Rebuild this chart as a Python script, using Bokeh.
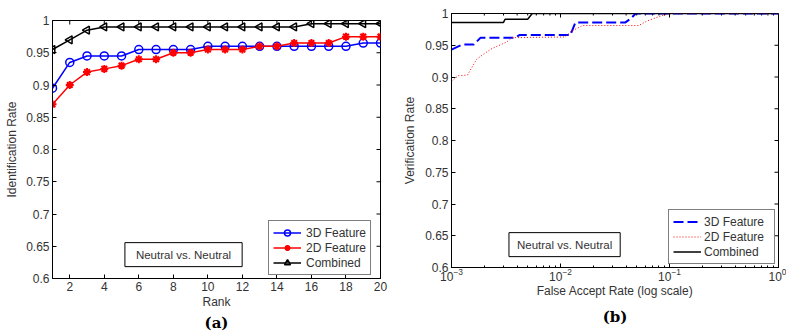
import numpy as np
from bokeh.plotting import figure
from bokeh.layouts import row
from bokeh.models import (Range1d, FixedTicker, NumeralTickFormatter,
                          Legend, LegendItem, Label, Title, LogTicker)
from bokeh.embed import file_html
from bokeh.resources import INLINE

# ---------------- data: (a) identification ----------------
rank = list(range(1, 21))
id_3d = [0.895, 0.935, 0.945, 0.945, 0.945, 0.955, 0.955, 0.955, 0.955, 0.96,
         0.96, 0.96, 0.96, 0.96, 0.96, 0.96, 0.96, 0.96, 0.965, 0.965]
id_2d = [0.87, 0.90, 0.92, 0.925, 0.93, 0.94, 0.94, 0.95, 0.95, 0.955,
         0.955, 0.955, 0.96, 0.96, 0.965, 0.965, 0.965, 0.975, 0.975, 0.975]
id_comb = [0.955, 0.97, 0.985, 0.99, 0.99, 0.99, 0.99, 0.99, 0.99, 0.99,
           0.99, 0.99, 0.99, 0.99, 0.99, 0.995, 0.995, 0.995, 0.995, 0.995]

# ---------------- data: (b) verification ----------------
far_3d = [0.001, 0.00125, 0.0016, 0.00185, 0.0038, 0.0042, 0.0123, 0.0137, 0.0394, 0.0440, 0.049, 1.0]
ver_3d = [0.943, 0.951, 0.951, 0.962, 0.962, 0.966, 0.966, 0.986, 0.986, 0.992, 1.0, 1.0]
far_2d = [0.001, 0.00115, 0.0014, 0.0017, 0.0023, 0.0032, 0.0036, 0.011, 0.0125, 0.016,
          0.052, 0.062, 0.083, 0.1, 1.0]
ver_2d = [0.893, 0.902, 0.903, 0.928, 0.944, 0.955, 0.962, 0.963, 0.972, 0.981,
          0.981, 0.988, 0.996, 1.0, 1.0]
far_comb = [0.001, 0.0030, 0.0031, 0.0050, 0.0055, 1.0]
ver_comb = [0.986, 0.986, 0.991, 0.991, 1.0, 1.0]

y_ticks = [0.6, 0.65, 0.7, 0.75, 0.8, 0.85, 0.9, 0.95, 1.0]
x_ticks_a = [2, 4, 6, 8, 10, 12, 14, 16, 18, 20]
x_ticks_b = [0.001, 0.01, 0.1, 1.0]
box_text = "Neutral vs. Neutral"

FONT = "Liberation Sans"
TXT = "#333333"
TICK_PX = 4


def style_axis(ax, label_standoff=3, title_standoff=3):
    ax.axis_line_color = "black"
    ax.major_tick_in = TICK_PX
    ax.major_tick_out = 0
    ax.minor_tick_in = 2
    ax.minor_tick_out = 0
    ax.major_tick_line_color = "black"
    ax.minor_tick_line_color = "black"
    ax.major_label_text_font = FONT
    ax.major_label_text_color = TXT
    ax.major_label_text_font_size = "12px"
    ax.major_label_standoff = label_standoff
    ax.axis_label_text_font = FONT
    ax.axis_label_text_font_size = "12px"
    ax.axis_label_text_font_style = "normal"
    ax.axis_label_text_color = TXT
    ax.axis_label_standoff = title_standoff


# ---------------- figure (a) ----------------
pa = figure(width=398, height=331, output_backend="svg", toolbar_location=None,
            x_range=Range1d(1, 20), y_range=Range1d(0.6, 1.0), frame_align=False,
            min_border_left=52, min_border_right=18, min_border_top=20, min_border_bottom=0)
pa.grid.visible = False
pa.outline_line_color = "black"
pa.xaxis.ticker = FixedTicker(ticks=x_ticks_a, minor_ticks=[])
pa.yaxis.ticker = FixedTicker(ticks=y_ticks, minor_ticks=[])
pa.yaxis.formatter = NumeralTickFormatter(format="0.[00]")
pa.xaxis.axis_label = "Rank"
pa.yaxis.axis_label = "Identification Rate"
style_axis(pa.xaxis[0], 3, 1)
style_axis(pa.yaxis[0], 3, 4)

# inward ticks on top and right edges (frame approx 328 x 257 px)
fw_a, fh_a = 328.0, 257.0
dy_a = TICK_PX * 0.4 / fh_a
dx_a = TICK_PX * 19.0 / fw_a
pa.segment(x0=x_ticks_a, y0=[1.0] * len(x_ticks_a), x1=x_ticks_a, y1=[1.0 - dy_a] * len(x_ticks_a),
           line_color="black", line_width=1)
pa.segment(x0=[20] * len(y_ticks), y0=y_ticks, x1=[20 - dx_a] * len(y_ticks), y1=y_ticks,
           line_color="black", line_width=1)

l1 = pa.line(rank, id_3d, line_color="#0000FF", line_width=1.5)
m1 = pa.scatter(rank, id_3d, marker="circle", size=8, line_color="#0000FF", fill_color=None, line_width=1.5)
l2 = pa.line(rank, id_2d, line_color="#FF0000", line_width=1.5)
m2 = pa.scatter(rank, id_2d, marker="asterisk", size=8, line_color="#FF0000", line_width=2)
l3 = pa.line(rank, id_comb, line_color="black", line_width=1.5)
m3 = pa.scatter(rank, id_comb, marker="triangle", angle=np.pi / 2, size=8, line_color="black",
                fill_color=None, line_width=1.5)

leg_a = Legend(items=[LegendItem(label="3D Feature", renderers=[l1, m1]),
                      LegendItem(label="2D Feature", renderers=[l2, m2]),
                      LegendItem(label="Combined", renderers=[l3, m3])],
               location=(216, 3), border_line_color="black", border_line_width=1,
               label_text_font=FONT, label_text_font_size="12px", label_text_color=TXT,
               glyph_width=28, glyph_height=15, label_height=15, label_width=60,
               spacing=0, padding=4, margin=0, label_standoff=5)
pa.add_layout(leg_a)

pa.add_layout(Label(x=8.59, y=0.637, text=box_text, text_align="center", text_baseline="middle",
                    text_font=FONT, text_font_size="11.5px", text_color=TXT,
                    border_line_color="black", border_line_width=1,
                    background_fill_color="white",
                    padding=dict(left=11, right=11, top=6, bottom=6)))
pa.add_layout(Title(text="(a)", align="center", text_font="DejaVu Serif", text_font_style="bold",
                    text_font_size="15px", text_color="black", standoff=0, offset=0), "below")

# ---------------- figure (b) ----------------
pb = figure(width=388, height=331, output_backend="svg", toolbar_location=None,
            x_axis_type="log", x_range=Range1d(1e-3, 1.0), y_range=Range1d(0.6, 1.0),
            frame_align=False,
            min_border_left=53, min_border_right=8, min_border_top=13, min_border_bottom=0)
pb.grid.visible = False
pb.outline_line_color = "black"
pb.xaxis.ticker = LogTicker(num_minor_ticks=10)
pb.yaxis.ticker = FixedTicker(ticks=y_ticks, minor_ticks=[])
pb.yaxis.formatter = NumeralTickFormatter(format="0.[00]")
pb.xaxis.axis_label = "False Accept Rate (log scale)"
pb.yaxis.axis_label = "Verification Rate"
style_axis(pb.xaxis[0], 0, 0)
style_axis(pb.yaxis[0], 3, 5)

fw_b, fh_b = 327.0, 254.0
dy_b = TICK_PX * 0.4 / fh_b
minor_b = [d * m for d in x_ticks_b[:-1] for m in range(2, 10)]
pb.segment(x0=x_ticks_b, y0=[1.0] * len(x_ticks_b), x1=x_ticks_b, y1=[1.0 - dy_b] * len(x_ticks_b),
           line_color="black", line_width=1)
pb.segment(x0=minor_b, y0=[1.0] * len(minor_b), x1=minor_b, y1=[1.0 - dy_b / 2] * len(minor_b),
           line_color="black", line_width=1)
xr_b = 10 ** (-3.0 * TICK_PX / fw_b)
pb.segment(x0=[1.0] * len(y_ticks), y0=y_ticks, x1=[xr_b] * len(y_ticks), y1=y_ticks,
           line_color="black", line_width=1)

b1 = pb.line(far_3d, ver_3d, line_color="#0000FF", line_width=2, line_dash="10 4")
b2 = pb.line(far_2d, ver_2d, line_color="#FF0000", line_width=1, line_dash="1 2")
b3 = pb.line(far_comb, ver_comb, line_color="black", line_width=1.5)

leg_b = Legend(items=[LegendItem(label="3D Feature", renderers=[b1]),
                      LegendItem(label="2D Feature", renderers=[b2]),
                      LegendItem(label="Combined", renderers=[b3])],
               location=(217, 3), border_line_color="black", border_line_width=1,
               label_text_font=FONT, label_text_font_size="12px", label_text_color=TXT,
               glyph_width=28, glyph_height=15, label_height=15, label_width=66,
               spacing=0, padding=4, margin=0, label_standoff=3)
pb.add_layout(leg_b)

pb.add_layout(Label(x=0.0109, y=0.636, text=box_text, text_align="center", text_baseline="middle",
                    text_font=FONT, text_font_size="11.5px", text_color=TXT,
                    border_line_color="black", border_line_width=1,
                    background_fill_color="white",
                    padding=dict(left=8, right=8, top=6, bottom=6)))
pb.add_layout(Title(text="(b)", align="center", text_font="DejaVu Serif", text_font_style="bold",
                    text_font_size="15px", text_color="black", standoff=11, offset=0), "below")

layout = row(pa, pb, spacing=0)
open("out.html", "w").write(file_html(layout, INLINE))
